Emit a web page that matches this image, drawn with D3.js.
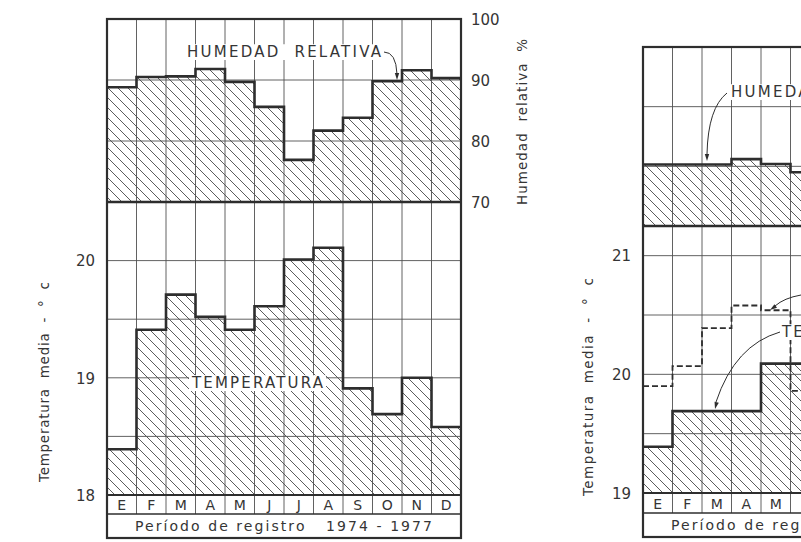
<!DOCTYPE html>
<html>
<head>
<meta charset="utf-8">
<script src="https://cdn.jsdelivr.net/npm/d3@7"></script>
<style>
  body { margin: 0; background: #fff; }
  svg { display: block; }
  text { font-family: "DejaVu Sans", sans-serif; fill: #353535; white-space: pre; }
</style>
</head>
<body>
<div id="chart"></div>
<script>
// monthly climate bars, step style - two stations side by side
const months = ["E", "F", "M", "A", "M", "J", "J", "A", "S", "O", "N", "D"];

// left station (1974 - 1977)
const humLeft = [88.8, 90.5, 90.6, 91.8, 89.7, 85.6, 76.9, 81.7, 83.8, 89.8, 91.6, 90.3];
const tempLeft = [18.39, 19.41, 19.71, 19.52, 19.41, 19.61, 20.01, 20.11, 18.91, 18.69, 19.0, 18.58];

// right station (only first months visible in the picture)
const humRight = [80.3, 80.3, 80.3, 81.2, 80.4, 79.0];
const tempRight = [19.39, 19.69, 19.69, 19.69, 20.09, 20.09];
const tempRightDash = [19.9, 20.07, 20.39, 20.58, 20.54, 19.86];

const humTicks = [70, 80, 90, 100];
const humGrid = [80, 90];
const tempTicksLeft = [18, 19, 20];
const tempGridLeft = [18.5, 19, 19.5, 20];
const tempTicksRight = [19, 20, 21];
const tempGridRight = [19.5, 20, 20.5, 21];

const W = 801, H = 542;
const INK = "#2e2e2e";

const svg = d3.select("#chart").append("svg")
    .attr("width", W)
    .attr("height", H);

// hatch pattern "\\\\"
const defs = svg.append("defs");
const pat = defs.append("pattern")
    .attr("id", "hatch")
    .attr("patternUnits", "userSpaceOnUse")
    .attr("width", 10)
    .attr("height", 10);
pat.append("path")
    .attr("d", "M-2,-2 L12,12 M-2,8 L2,12 M8,-2 L12,2")
    .attr("stroke", "#4a4a4a")
    .attr("stroke-width", 0.9)
    .attr("fill", "none");

// one panel = humidity block on top, temperature block below, month row, caption row
function panel(cfg) {
  const g = svg.append("g");
  const xs = d3.scaleBand().domain(d3.range(months.length)).range([cfg.x0, cfg.x1]);
  const bw = xs.bandwidth();
  const yH = d3.scaleLinear().domain([70, 100]).range([cfg.humBottom, cfg.top]);
  const yT = d3.scaleLinear().domain([cfg.tMin, cfg.tMax]).range([cfg.tempBottom, cfg.humBottom]);

  function stepPts(vals) {
    const pts = vals.map((v, i) => ({ x: xs(i), v: v }));
    pts.push({ x: xs(vals.length - 1) + bw, v: vals[vals.length - 1] });
    return pts;
  }

  // hatched areas
  g.append("path")
      .attr("d", d3.area().curve(d3.curveStepAfter)
          .x(d => d.x).y0(yH(70)).y1(d => yH(d.v))(stepPts(cfg.hum)))
      .attr("fill", "url(#hatch)");
  g.append("path")
      .attr("d", d3.area().curve(d3.curveStepAfter)
          .x(d => d.x).y0(yT(cfg.tMin)).y1(d => yT(d.v))(stepPts(cfg.temp)))
      .attr("fill", "url(#hatch)");

  // grid
  const grid = g.append("g").attr("stroke", "#505050").attr("stroke-width", 0.9);
  grid.selectAll(".v").data(d3.range(1, months.length)).enter().append("line")
      .attr("x1", i => xs(i)).attr("x2", i => xs(i))
      .attr("y1", cfg.top).attr("y2", cfg.rowBottom);
  grid.selectAll(".hh").data(humGrid).enter().append("line")
      .attr("x1", cfg.x0).attr("x2", cfg.x1)
      .attr("y1", d => yH(d)).attr("y2", d => yH(d));
  grid.selectAll(".ht").data(cfg.tGrid).enter().append("line")
      .attr("x1", cfg.x0).attr("x2", cfg.x1)
      .attr("y1", d => yT(d)).attr("y2", d => yT(d));

  // step outlines
  const stepLine = (y) => d3.line().curve(d3.curveStepAfter).x(d => d.x).y(d => y(d.v));
  g.append("path").attr("d", stepLine(yH)(stepPts(cfg.hum)))
      .attr("fill", "none").attr("stroke", INK).attr("stroke-width", 2.6);
  g.append("path").attr("d", stepLine(yT)(stepPts(cfg.temp)))
      .attr("fill", "none").attr("stroke", INK).attr("stroke-width", 2.6);
  if (cfg.dash) {
    g.append("path").attr("d", stepLine(yT)(stepPts(cfg.dash)))
        .attr("fill", "none").attr("stroke", INK).attr("stroke-width", 1.8)
        .attr("stroke-dasharray", "6,3");
  }

  // frame and dividers
  g.append("rect")
      .attr("x", cfg.x0).attr("y", cfg.top)
      .attr("width", cfg.x1 - cfg.x0).attr("height", cfg.bottom - cfg.top)
      .attr("fill", "none").attr("stroke", INK).attr("stroke-width", 2.2);
  [[cfg.humBottom, 2.6], [cfg.tempBottom, 2.2], [cfg.rowBottom, 1.4]].forEach(([y, w]) => {
    g.append("line").attr("x1", cfg.x0).attr("x2", cfg.x1)
        .attr("y1", y).attr("y2", y)
        .attr("stroke", INK).attr("stroke-width", w);
  });

  // month letters (only the columns that fit in the window)
  g.selectAll(".m").data(months.slice(0, cfg.nLetters)).enter().append("text")
      .attr("x", (d, i) => xs(i) + bw / 2)
      .attr("y", (cfg.tempBottom + cfg.rowBottom) / 2 + 5.5)
      .attr("text-anchor", "middle")
      .attr("font-size", 14)
      .text(d => d);

  g.append("text")
      .attr("x", cfg.x0 + 28)
      .attr("y", (cfg.rowBottom + cfg.bottom) / 2 + 5)
      .attr("font-size", 14)
      .attr("textLength", 297)
      .attr("lengthAdjust", "spacing")
      .text("Período de registro   1974 - 1977");

  // temperature axis (left)
  const axT = g.append("g")
      .attr("transform", `translate(${cfg.x0},0)`)
      .call(d3.axisLeft(yT).tickValues(cfg.tTicks).tickSize(0).tickPadding(12)
          .tickFormat(d3.format("d")));
  axT.select(".domain").remove();
  axT.selectAll("text").attr("font-size", 15).attr("font-family", "DejaVu Sans")
      .attr("fill", "#353535").attr("dy", "0.35em");

  g.append("text")
      .attr("transform", `translate(${cfg.titleX},${cfg.titleY}) rotate(-90)`)
      .attr("text-anchor", "middle")
      .attr("font-size", 13.5)
      .attr("textLength", cfg.titleLen)
      .attr("lengthAdjust", "spacing")
      .text("Temperatura  media  -  °  c");

  return { g, xs, yH, yT, bw };
}

// label with white backing
function tag(g, x, y, txt, len, size) {
  const t = g.append("text")
      .attr("x", x).attr("y", y)
      .attr("font-size", size)
      .attr("textLength", len)
      .attr("lengthAdjust", "spacing")
      .text(txt);
  g.insert("rect", () => t.node())
      .attr("x", x - 3).attr("y", y - size * 0.85)
      .attr("width", len + 6).attr("height", size * 1.05)
      .attr("fill", "#fff");
  return t;
}

function leader(g, d) {
  g.append("path").attr("d", d)
      .attr("fill", "none").attr("stroke", INK).attr("stroke-width", 1);
}
function tip(g, x, y, ang) {
  g.append("path")
      .attr("d", "M0,0 L-2.2,-7 L2.2,-7 Z")
      .attr("transform", `translate(${x},${y}) rotate(${ang})`)
      .attr("fill", INK);
}

// LEFT PANEL
const L = panel({
  x0: 107, x1: 461, top: 19, humBottom: 202, tempBottom: 495, rowBottom: 514, bottom: 538,
  tMin: 18, tMax: 20.5, tGrid: tempGridLeft, tTicks: tempTicksLeft,
  hum: humLeft, temp: tempLeft, nLetters: 12,
  titleX: 49, titleY: 382, titleLen: 200
});

const axH = L.g.append("g")
    .attr("transform", "translate(461,0)")
    .call(d3.axisRight(L.yH).tickValues(humTicks).tickSize(0).tickPadding(10));
axH.select(".domain").remove();
axH.selectAll("text").attr("font-size", 15).attr("font-family", "DejaVu Sans")
    .attr("fill", "#353535").attr("dy", "0.35em");

L.g.append("text")
    .attr("transform", "translate(527,122) rotate(-90)")
    .attr("text-anchor", "middle")
    .attr("font-size", 13.5)
    .attr("textLength", 166)
    .attr("lengthAdjust", "spacing")
    .text("Humedad  relativa  %");

tag(L.g, 187, 57, "HUMEDAD  RELATIVA", 194, 15);
leader(L.g, "M384,52 Q396,52 397,74");
tip(L.g, 397, 80, 0);

tag(L.g, 192, 388, "TEMPERATURA", 131, 15);

// RIGHT PANEL (cut by the window edge)
const R = panel({
  x0: 643, x1: 997, top: 47, humBottom: 226, tempBottom: 493, rowBottom: 513, bottom: 537,
  tMin: 19, tMax: 21.25, tGrid: tempGridRight, tTicks: tempTicksRight,
  hum: humRight, temp: tempRight, dash: tempRightDash, nLetters: 5,
  titleX: 593, titleY: 387, titleLen: 218
});

tag(R.g, 731, 97, "HUMEDAD  RELATIVA", 194, 15);
leader(R.g, "M727,93 Q708,108 707,154");
tip(R.g, 707, 161, 0);

tag(R.g, 782, 337, "TEMPERATURA", 131, 15);
leader(R.g, "M780,332 Q735,345 716,402");
tip(R.g, 715, 409, 14);
leader(R.g, "M801,295 Q784,298 775,306");
tip(R.g, 770, 310, 55);
</script>
</body>
</html>
